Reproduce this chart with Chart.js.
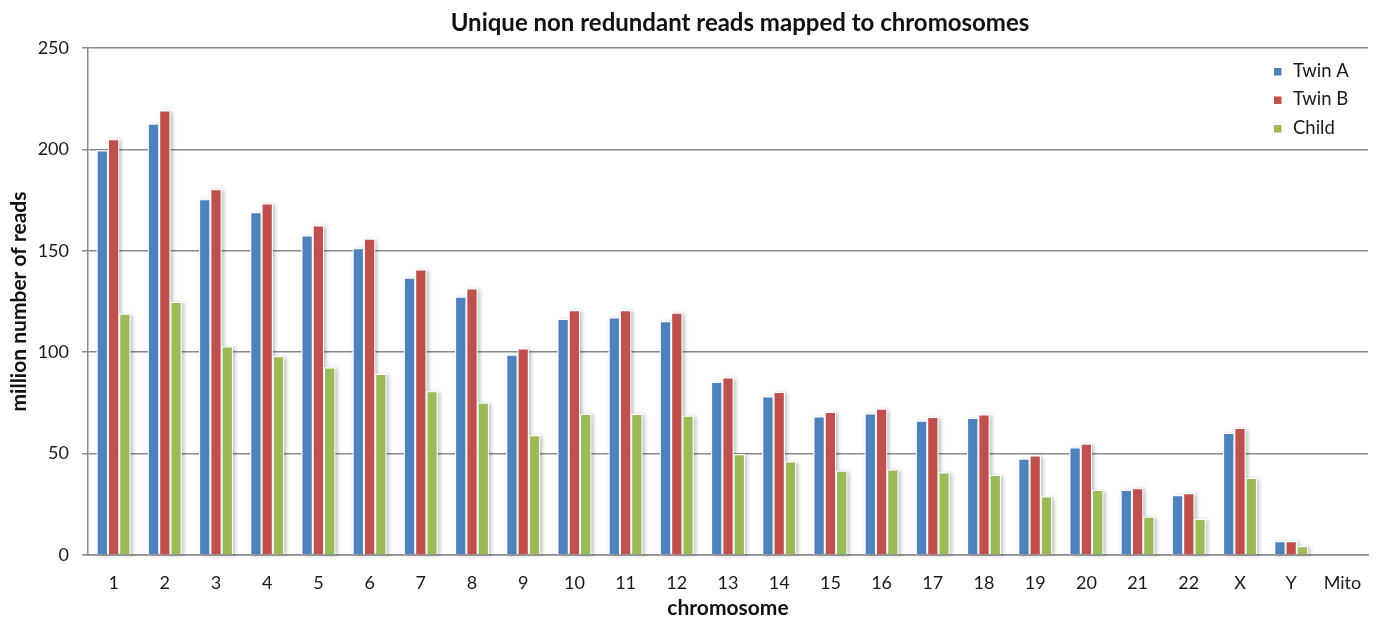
<!DOCTYPE html>
<html>
<head>
<meta charset="utf-8">
<script src="https://cdn.jsdelivr.net/npm/chart.js@4/dist/chart.umd.min.js"></script>
<style>
  html, body { margin: 0; padding: 0; background: #fff; }
  #wrap { width: 1381px; height: 623px; }
</style>
</head>
<body>
<div id="wrap"><canvas id="chromo-chart" width="1381" height="623"></canvas></div>
<script>
// chromosome categories and reads (million)
var chromosomes = ['1', '2', '3', '4', '5', '6', '7', '8', '9', '10', '11', '12', '13', '14', '15', '16', '17', '18', '19', '20', '21', '22', 'X', 'Y', 'Mito'];
var twinA = [199.5, 212.6, 175.4, 169, 157.6, 151.2, 136.7, 127.3, 98.8, 116.4, 117.1, 115.3, 85.3, 78.1, 68.3, 69.8, 66.2, 67.5, 47.4, 53, 32.1, 29.5, 60.1, 6.8, 0];
var twinB = [205, 219.2, 180.3, 173.3, 162.5, 156, 140.8, 131.4, 101.8, 120.7, 120.7, 119.4, 87.5, 80.4, 70.5, 72.1, 68, 69.3, 49.1, 54.8, 32.9, 30.5, 62.6, 6.8, 0];
var child = [119, 124.8, 102.8, 98, 92.5, 89.3, 80.7, 75.1, 59, 69.5, 69.5, 68.7, 49.7, 46.1, 41.5, 42.1, 40.7, 39.4, 28.8, 32, 18.8, 17.8, 38, 4.3, 0];
var yTicks = [0, 50, 100, 150, 200, 250];
var chartTitle = 'Unique non redundant reads mapped to chromosomes';

var FONT = 'Lato, "Open Sans", sans-serif';
var GRID = '#8a8a8a';

// soft shadow behind each bar, like the Excel original
var barShadow = {
  id: 'barShadow',
  beforeDatasetsDraw: function(chart) {
    var ctx = chart.ctx;
    ctx.save();
    ctx.shadowColor = 'rgba(0,0,0,0.28)';
    ctx.shadowBlur = 4;
    ctx.shadowOffsetX = 2;
    ctx.shadowOffsetY = 1;
    ctx.fillStyle = '#ffffff';
    chart.data.datasets.forEach(function(ds, i) {
      chart.getDatasetMeta(i).data.forEach(function(bar) {
        var h = bar.base - bar.y;
        if (h > 0.5) ctx.fillRect(bar.x - bar.width / 2, bar.y, bar.width, h);
      });
    });
    ctx.restore();
  }
};

// title sits a bit right of the canvas centre in the original
var topTitle = {
  id: 'topTitle',
  afterDraw: function(chart) {
    var ctx = chart.ctx;
    ctx.save();
    ctx.font = 'bold 24px ' + FONT;
    ctx.fillStyle = '#111';
    ctx.textAlign = 'center';
    ctx.textBaseline = 'middle';
    ctx.fillText(chartTitle, 740, 23);
    ctx.restore();
  }
};

// legend drawn inside the plot at top right
var insideLegend = {
  id: 'insideLegend',
  afterDraw: function(chart) {
    var ctx = chart.ctx;
    var area = chart.chartArea;
    var x = area.right - 94;
    var y = area.top + 23;
    ctx.save();
    ctx.font = '18.5px ' + FONT;
    ctx.textBaseline = 'middle';
    chart.data.datasets.forEach(function(ds, i) {
      var cy = y + i * 28.5;
      ctx.fillStyle = ds.backgroundColor;
      ctx.fillRect(x, cy - 3, 7.5, 7.5);
      ctx.fillStyle = '#1a1a1a';
      ctx.fillText(ds.label, x + 19, cy);
    });
    ctx.restore();
  }
};

var ctx = document.getElementById('chromo-chart').getContext('2d');

new Chart(ctx, {
  type: 'bar',
  data: {
    labels: chromosomes,
    datasets: [
      { label: 'Twin A', data: twinA, backgroundColor: '#4F81BD' },
      { label: 'Twin B', data: twinB, backgroundColor: '#C0504D' },
      { label: 'Child', data: child, backgroundColor: '#9BBB59' }
    ]
  },
  options: {
    responsive: false,
    animation: false,
    layout: { padding: { left: 0, right: 13, top: 48, bottom: 0 } },
    datasets: {
      bar: {
        categoryPercentage: 0.66,
        barPercentage: 1,
        borderColor: '#ffffff',
        borderWidth: 1
      }
    },
    plugins: {
      legend: { display: false },
      tooltip: { enabled: false },
      title: { display: false }
    },
    scales: {
      x: {
        afterFit: function(scale) { scale.height = 68; },
        grid: { display: false, drawTicks: false },
        border: { display: true, color: GRID, width: 1.5 },
        ticks: { color: '#1a1a1a', padding: 17, font: { family: FONT, size: 18 } },
        title: {
          display: true,
          text: 'chromosome',
          color: '#111',
          font: { family: FONT, size: 21, weight: 'bold' },
          padding: { top: 0, bottom: 2 }
        }
      },
      y: {
        min: 0,
        max: 250,
        afterBuildTicks: function(scale) {
          scale.ticks = yTicks.map(function(v) { return { value: v }; });
        },
        afterFit: function(scale) { scale.width = 88; },
        grid: { color: GRID, lineWidth: 1.5, tickLength: 6, tickColor: GRID },
        border: { display: true, color: GRID, width: 1.5 },
        ticks: { color: '#1a1a1a', padding: 13, font: { family: FONT, size: 18 } },
        title: {
          display: true,
          text: 'million number of reads',
          color: '#111',
          font: { family: FONT, size: 21, weight: 'bold' },
          padding: { top: 6.5, bottom: 0 }
        }
      }
    }
  },
  plugins: [barShadow, topTitle, insideLegend]
});
</script>
</body>
</html>
